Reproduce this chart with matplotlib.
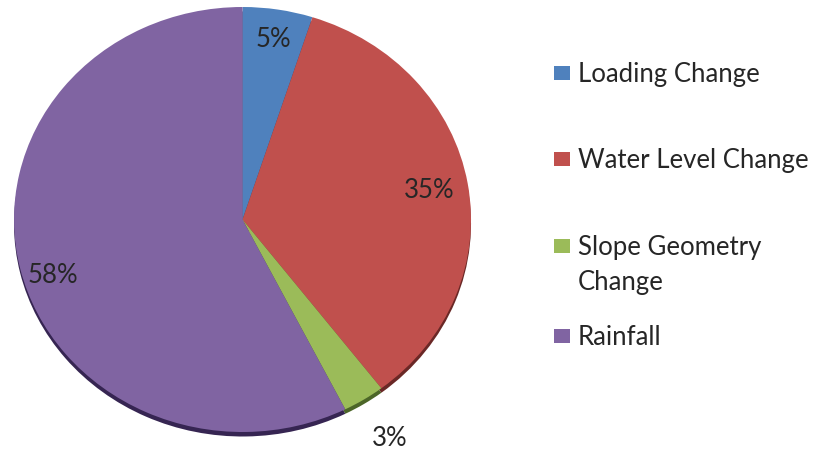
import matplotlib.pyplot as plt
import numpy as np
from matplotlib.patches import Rectangle

categories = ["Loading Change", "Water Level Change", "Slope Geometry\nChange", "Rainfall"]
shares = [5, 35, 3, 58]
share_labels = ["5%", "35%", "3%", "58%"]

colors = ["#4F81BD", "#C0504D", "#9BBB59", "#8064A2"]
rim_colors = ["#2b4670", "#6a2826", "#4c6628", "#362552"]

W, H = 818, 456
FONT = "Lato"
FONT_SIZE = 18.5


def main() -> None:
    fig = plt.figure(figsize=(W / 100, H / 100), dpi=100)
    fig.patch.set_facecolor("white")
    ax = fig.add_axes([0, 0, 1, 1])

    # pie is slightly squashed: 228.5 px across per unit, 212.5 px tall
    cx, cy = 242.5, 220.5
    rx, ry = 228.5, 212.5
    ax.pie(shares, colors=rim_colors, startangle=90, counterclock=False,
           center=(0, -4.5 / ry), wedgeprops=dict(linewidth=0))
    wedges, _ = ax.pie(shares, colors=colors, startangle=90, counterclock=False,
                       wedgeprops=dict(linewidth=0))
    ax.set_aspect("auto")
    ax.set_xlim(-cx / rx, (W - cx) / rx)
    ax.set_ylim(-(H - cy) / ry, cy / ry)
    ax.axis("off")

    # radius and small angle nudge (deg) for each percentage label
    label_dist = [0.86, 0.83, 1.21, 0.87]
    label_turn = [0, 0, 0, 4]
    for wedge, text, dist, turn in zip(wedges, share_labels, label_dist, label_turn):
        mid = np.deg2rad((wedge.theta1 + wedge.theta2) / 2 + turn)
        ax.text(dist * np.cos(mid), dist * np.sin(mid), text, ha="center", va="center",
                fontsize=FONT_SIZE, family=FONT, color="#262626")

    # legend drawn by hand so the wrapped entry keeps its box on the first line
    baselines = [82, 168, 255, 345]
    line_step = 35
    for name, color, base in zip(categories, colors, baselines):
        fig.add_artist(Rectangle((554 / W, (H - base + 1) / H), 16 / W, 14 / H,
                                 transform=fig.transFigure, color=color, lw=0))
        for i, line in enumerate(name.split("\n")):
            fig.text(578 / W, (H - base - i * line_step) / H, line, ha="left", va="baseline",
                     fontsize=FONT_SIZE, family=FONT, color="#262626")

    fig.savefig("out.png", dpi=100)
    plt.close(fig)


if __name__ == "__main__":
    main()
